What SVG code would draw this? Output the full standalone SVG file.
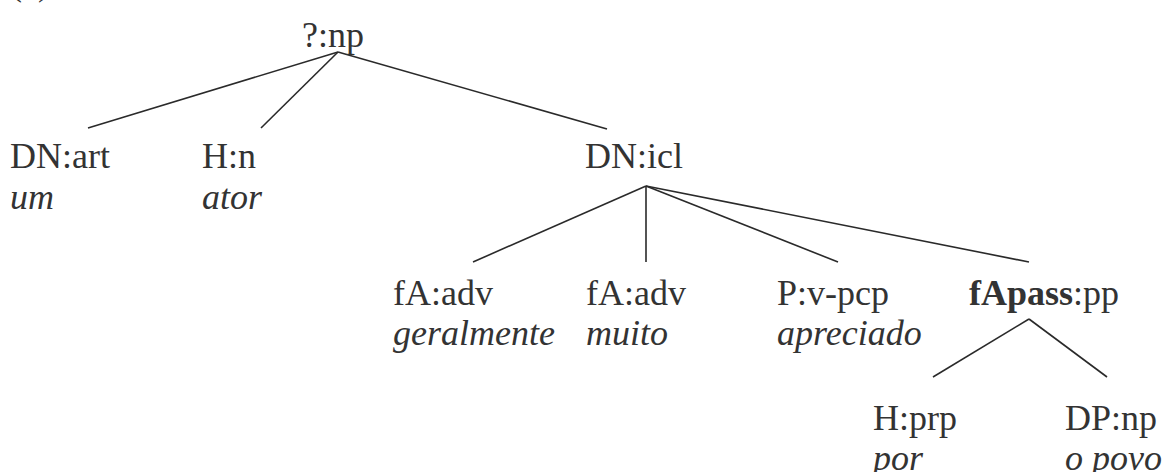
<svg xmlns="http://www.w3.org/2000/svg" width="1169" height="472" viewBox="0 0 1169 472">
<style>
text{font-family:"Liberation Serif","Times New Roman",serif;font-size:36px;fill:#333}
.w{font-style:italic}
.b{font-weight:bold}
.e{stroke:#2a2a2a;stroke-width:1.6;fill:none}
</style>
<rect width="1169" height="472" fill="#fff"/>
<text x="10" y="-5">(c)</text>
<g id="connectors">
<line class="e" x1="338" y1="52" x2="88" y2="128"/>
<line class="e" x1="338" y1="52" x2="261" y2="128"/>
<line class="e" x1="338" y1="52" x2="607" y2="129"/>
<line class="e" x1="646" y1="186" x2="473" y2="262"/>
<line class="e" x1="646" y1="186" x2="646" y2="262"/>
<line class="e" x1="646" y1="186" x2="838" y2="262"/>
<line class="e" x1="646" y1="186" x2="1029" y2="262"/>
<line class="e" x1="1029" y1="319" x2="933" y2="377"/>
<line class="e" x1="1029" y1="319" x2="1107" y2="377"/>
</g>
<g id="n-np"><text x="302" y="47">?:np</text></g>
<g id="n-dnart"><text x="10" y="168">DN:art</text><text class="w" x="10" y="209">um</text></g>
<g id="n-hn"><text x="202" y="168">H:n</text><text class="w" x="202" y="209">ator</text></g>
<g id="n-dnicl"><text x="585" y="168">DN:icl</text></g>
<g id="n-fa1"><text x="393" y="305">fA:adv</text><text class="w" x="393" y="345">geralmente</text></g>
<g id="n-fa2"><text x="586" y="305">fA:adv</text><text class="w" x="586" y="345">muito</text></g>
<g id="n-pv"><text x="777" y="305">P:v-pcp</text><text class="w" x="777" y="345">apreciado</text></g>
<g id="n-fapass"><text x="969" y="305"><tspan class="b">fApass</tspan>:pp</text></g>
<g id="n-hprp"><text x="873" y="430">H:prp</text><text class="w" x="873" y="470">por</text></g>
<g id="n-dpnp"><text x="1065" y="430">DP:np</text><text class="w" x="1065" y="470">o povo</text></g>
</svg>
